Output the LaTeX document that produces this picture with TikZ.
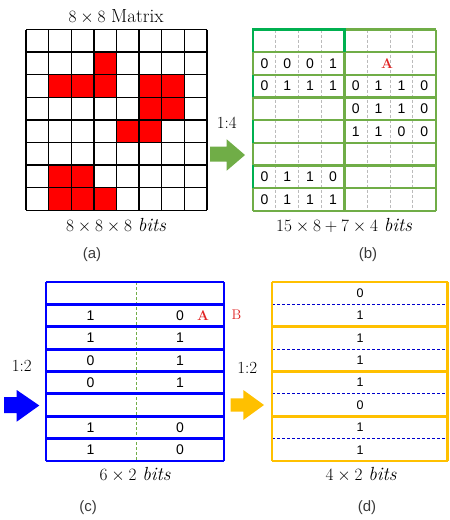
\documentclass[tikz,border=0pt]{standalone}
\usepackage{fontspec}
\newfontfamily\digfont{Liberation Sans}
\definecolor{lgreen}{HTML}{70AD47}
\definecolor{dgreen}{HTML}{00B050}
\definecolor{pblue}{HTML}{0000FF}
\definecolor{pyellow}{HTML}{FFC000}
\definecolor{tred}{HTML}{E02424}
\definecolor{dgray}{HTML}{BBBBBB}
\definecolor{lblgray}{HTML}{3A3A3A}
\tikzset{
  gridline/.style={black, line width=1.4pt},
  gline/.style={lgreen, line width=2.4pt},
  dline/.style={dgreen, line width=2.4pt},
  bline/.style={pblue, line width=2.8pt},
  yline/.style={pyellow, line width=2.6pt},
  qdash/.style={dgray, line width=0.8pt, dash pattern=on 3pt off 2pt},
  dig/.style={font=\digfont\fontsize{14}{16}\selectfont, inner sep=0pt},
  digs/.style={font=\digfont\fontsize{12.5}{14}\selectfont, inner sep=0pt},
  captext/.style={font=\fontsize{19}{22}\selectfont, inner sep=0pt},
  ratio/.style={font=\fontsize{17}{20}\selectfont, inner sep=0pt},
  sublabel/.style={font=\digfont\fontsize{15}{17}\selectfont, text=lblgray, inner sep=0pt},
  redA/.style={font=\bfseries\fontsize{14}{16}\selectfont, text=tred, inner sep=0pt},
}
\begin{document}
\begin{tikzpicture}[x=1pt,y=-1pt]
\useasboundingbox (0,0) rectangle (450,520);

% ---------- panel (a)
\def\ax{26}\def\ay{29.5}\def\as{22.6}
\foreach \r/\c in {1/3,2/1,2/2,2/3,2/5,2/6,3/5,3/6,4/4,4/5,6/1,6/2,7/1,7/2,7/3}
  \fill[red] ({\ax+\c*\as},{\ay+\r*\as}) rectangle ++(\as,\as);
\foreach \i in {0,...,8} {
  \draw[gridline] ({\ax+\i*\as},\ay) -- ++(0,{8*\as});
  \draw[gridline] (\ax,{\ay+\i*\as}) -- ++({8*\as},0);
}
\node[captext] (ta) at (116,17) {$8\times 8$ Matrix};
\node[captext] (ba) at (116,226) {$8\times 8\times 8\ \mathit{bits}$};
\node[sublabel] (la) at (92,255) {(a)};

% ---------- arrow a->b
\fill[lgreen] (210,146.7) -- (226.7,146.7) -- (226.7,139.3) -- (245,155) -- (226.7,170.7) -- (226.7,161.7) -- (210,161.7) -- cycle;
\node[ratio] (r14) at (226.7,122.7) {1:4};

% ---------- panel (b)
\def\bx{253}\def\by{29.5}\def\bh{22.65}\def\bm{344.3}\def\br{435.7}
\foreach \k in {1,2,3} {
  \draw[qdash] ({\bx+\k*22.83},\by) -- ++(0,{8*\bh});
  \draw[qdash] ({\bm+\k*22.85},\by) -- ++(0,{8*\bh});
}
\foreach \i in {0,...,8}
  \draw[gline] (\bx,{\by+\i*\bh}) -- (\br,{\by+\i*\bh});
\draw[gline] (\bx,\by) -- ++(0,{8*\bh});
\draw[gline] (\bm,\by) -- ++(0,{8*\bh});
\draw[gline] (\br,\by) -- ++(0,{8*\bh});
% darker green accents
\draw[dline] (\bm,{\by+\bh}) -- (\bm,\by) -- (\bx,\by) -- (\bx,{\by+\bh});
\foreach \rw in {2,4,6}
  \draw[dline] (\bx,{\by+\rw*\bh}) -- (\bx,{\by+(\rw+1)*\bh});
\foreach \rw/\a/\b/\c/\d in {1/0/0/0/1, 2/0/1/1/1, 6/0/1/1/0, 7/0/1/1/1}
  \foreach \v [count=\k from 0] in {\a,\b,\c,\d}
    \node[dig] (bl\rw\k) at ({\bx+(\k+0.5)*22.83},{\by+(\rw+0.5)*\bh}) {\v};
\foreach \rw/\a/\b/\c/\d in {2/0/1/1/0, 3/0/1/1/0, 4/1/1/0/0}
  \foreach \v [count=\k from 0] in {\a,\b,\c,\d}
    \node[dig] (br\rw\k) at ({\bm+(\k+0.5)*22.85},{\by+(\rw+0.5)*\bh}) {\v};
\node[redA] (bA) at (387,{\by+1.5*\bh}) {A};
\node[captext] (bb) at (344,226) {$15\times 8+7\times 4\ \mathit{bits}$};
\node[sublabel] (lb) at (368,255) {(b)};

% ---------- panel (c)
\def\cx{46}\def\cy{282}\def\ch{22.375}\def\cr{224}\def\cm{136}
\draw[lgreen, line width=0.8pt, dash pattern=on 3pt off 2pt] (\cm,\cy) -- ++(0,{8*\ch});
\foreach \i in {0,...,8}
  \draw[bline] (\cx,{\cy+\i*\ch}) -- (\cr,{\cy+\i*\ch});
\draw[bline] (\cx,\cy) -- ++(0,{8*\ch});
\draw[bline] (\cr,\cy) -- ++(0,{8*\ch});
\foreach \rw/\a/\b in {1/1/0, 2/1/1, 3/0/1, 4/0/1, 6/1/0, 7/1/0} {
  \node[dig] (cl\rw) at (90.5,{\cy+(\rw+0.5)*\ch}) {\a};
  \node[dig] (cr\rw) at (180,{\cy+(\rw+0.5)*\ch}) {\b};
}
\node[redA] (cA) at (203,{\cy+1.5*\ch}) {A};
\node[font=\fontsize{14}{16}\selectfont, text=tred, inner sep=0pt] (cB) at (236.5,315) {B};
\node[captext] (cb) at (135,475) {$6\times 2\ \mathit{bits}$};
\node[sublabel] (lc) at (88,508) {(c)};

% ---------- arrow b->c (blue)
\fill[pblue] (4,397) -- (16.7,397) -- (16.7,390) -- (39.3,405.5) -- (16.7,421.7) -- (16.7,413) -- (4,413) -- cycle;
\node[ratio] (r12a) at (21.7,366) {1:2};

% ---------- arrow c->d (yellow)
\fill[pyellow] (230.7,398.3) -- (243.3,398.3) -- (243.3,390) -- (264,405) -- (243.3,420) -- (243.3,411.7) -- (230.7,411.7) -- cycle;
\node[ratio] (r12b) at (247.3,368) {1:2};

% ---------- panel (d)
\def\dx{272}\def\dy{282}\def\dh{22.375}\def\dr{447.5}
\foreach \g in {0,...,3}
  \draw[blue!80!black, line width=0.9pt, dash pattern=on 3pt off 2pt] (\dx,{\dy+(2*\g+1)*\dh}) -- (\dr,{\dy+(2*\g+1)*\dh});
\foreach \g in {0,...,4}
  \draw[yline] (\dx,{\dy+2*\g*\dh}) -- (\dr,{\dy+2*\g*\dh});
\draw[yline] (\dx,\dy) -- ++(0,{8*\dh});
\draw[yline] (\dr,\dy) -- ++(0,{8*\dh});
\foreach \v [count=\k from 0] in {0,1,1,1,1,0,1,1}
  \node[digs] (dv\k) at (360,{\dy+(\k+0.5)*\dh}) {\v};
\node[captext] (db) at (361,475) {$4\times 2\ \mathit{bits}$};
\node[sublabel] (ld) at (367,508) {(d)};
\end{tikzpicture}
\end{document}
